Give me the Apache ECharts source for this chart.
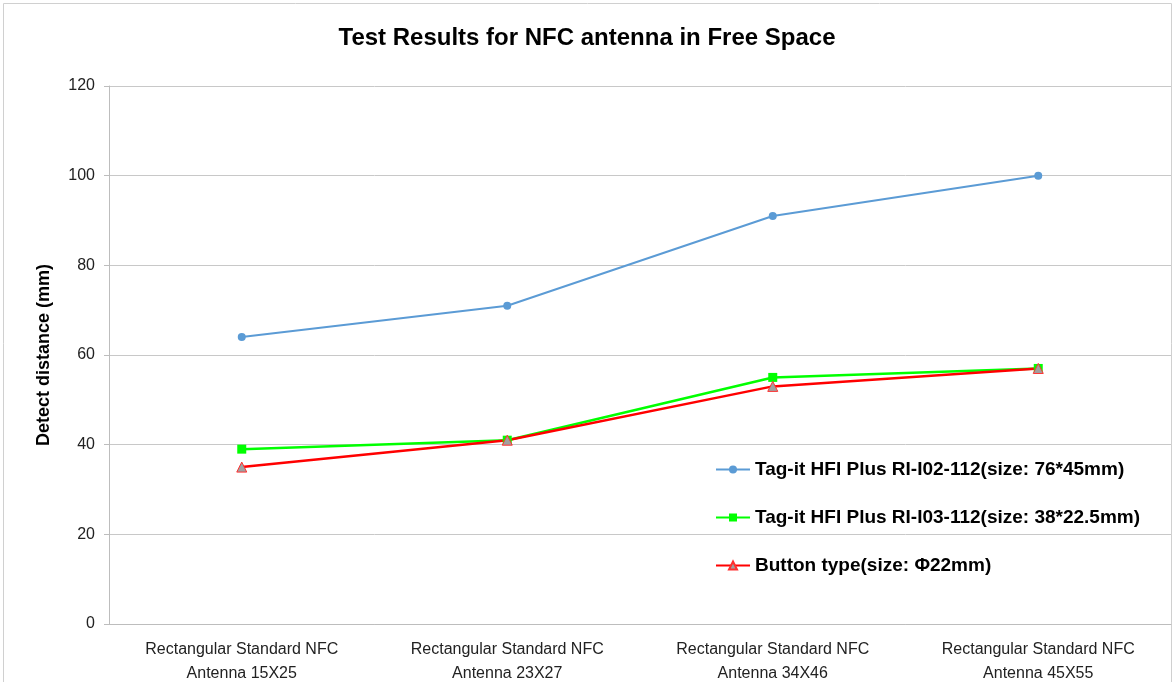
<!DOCTYPE html>
<html><head><meta charset="utf-8">
<script src="https://cdn.jsdelivr.net/npm/echarts@6/dist/echarts.min.js"></script>
<style>html,body{margin:0;padding:0;background:#fff}#c{width:1174px;height:682px}</style>
</head><body><div id="c"></div>
<script>
const categories = ['Rectangular Standard NFC\nAntenna 15X25','Rectangular Standard NFC\nAntenna 23X27','Rectangular Standard NFC\nAntenna 34X46','Rectangular Standard NFC\nAntenna 45X55'];
const seriesNames = ['Tag-it HFI Plus RI-I02-112(size: 76*45mm)','Tag-it HFI Plus RI-I03-112(size: 38*22.5mm)','Button type(size: Φ22mm)'];
const blueValues = [64, 71, 91, 100];
const greenValues = [39, 41, 55, 57];
const redValues = [35, 41, 53, 57];
const yTicks = [0, 20, 40, 60, 80, 100, 120];

const chart = echarts.init(document.getElementById('c'));
const font = '"Liberation Sans", sans-serif';
chart.setOption({
  animation: false,
  graphic: [{type:'rect', shape:{x:3.5,y:3.5,width:1168,height:680}, style:{fill:'none', stroke:'#d0d0d0', lineWidth:1}}],
  title: {text:'Test Results for NFC antenna in Free Space', left:'center', top:21,
    textStyle:{fontFamily:font, fontWeight:'bold', fontSize:24, color:'#000'}},
  grid: {left:109, right:3, top:86, bottom:58, containLabel:false, outerBoundsMode:'none'},
  legend: {orient:'vertical', left:710, top:455, itemGap:29, itemWidth:34, itemHeight:10,
    textStyle:{fontFamily:font, fontWeight:'bold', fontSize:19, color:'#000'}},
  xAxis: {type:'category', data:categories, boundaryGap:true,
    axisLine:{lineStyle:{color:'#bdbdbd'}}, axisTick:{show:false},
    axisLabel:{fontFamily:font, fontSize:16, color:'#222', lineHeight:24, margin:14}},
  yAxis: {type:'value', min:yTicks[0], max:yTicks[yTicks.length-1], interval:20,
    name:'Detect distance (mm)', nameLocation:'middle', nameGap:56,
    nameTextStyle:{fontFamily:font, fontWeight:'bold', fontSize:18, color:'#000'},
    axisLine:{show:true, lineStyle:{color:'#bdbdbd'}}, axisTick:{show:true, lineStyle:{color:'#bdbdbd'}},
    axisLabel:{fontFamily:font, fontSize:16, color:'#222', margin:14},
    splitLine:{lineStyle:{color:'#c8c8c8'}}},
  series: [
    {name:seriesNames[0], type:'line', data:blueValues, symbol:'circle', symbolSize:8,
      lineStyle:{color:'#5b9bd5', width:2}, itemStyle:{color:'#5b9bd5'}},
    {name:seriesNames[1], type:'line', data:greenValues, symbol:'rect', symbolSize:9,
      lineStyle:{color:'#00ff00', width:2.5}, itemStyle:{color:'#00ff00'}},
    {name:seriesNames[2], type:'line', data:redValues, symbol:'triangle', symbolSize:10,
      lineStyle:{color:'#ff0000', width:2.5}, itemStyle:{color:'#a0a0a0', borderColor:'#ff3030', borderWidth:1}}
  ]
});
</script></body></html>
